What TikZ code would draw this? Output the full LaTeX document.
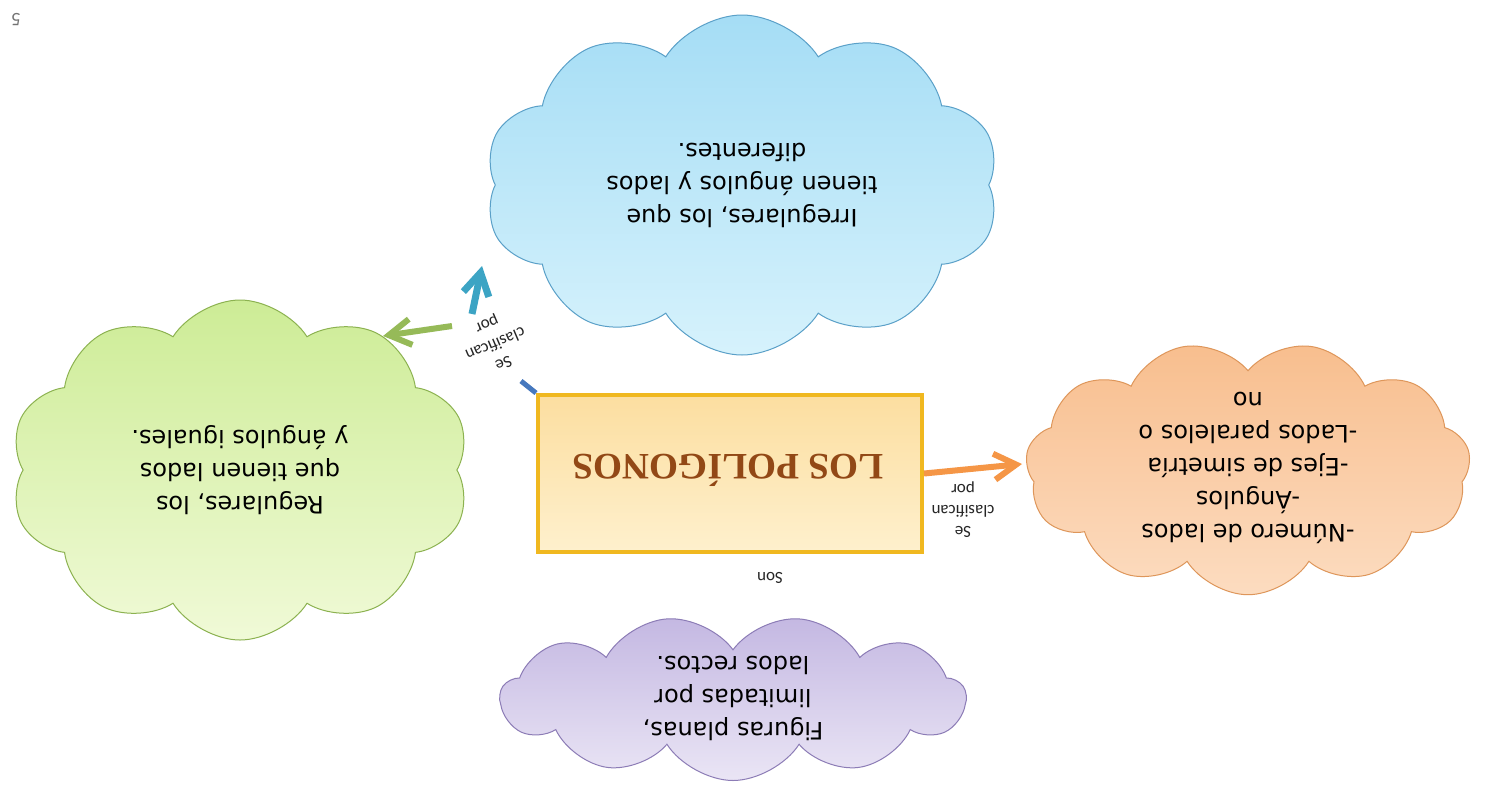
\documentclass[tikz,border=0pt]{standalone}
\usepackage{fontspec}
\setmainfont{DejaVu Sans}
\newfontfamily\labelfont{Carlito}
\newfontfamily\titlefont{Liberation Serif}
\usetikzlibrary{shapes.symbols,arrows.meta}
\definecolor{boxline}{RGB}{240,184,32}
\definecolor{boxtop}{RGB}{252,222,160}
\definecolor{boxbot}{RGB}{254,240,205}
\definecolor{titlebrown}{RGB}{146,72,22}
\definecolor{bluefillA}{RGB}{214,242,252}
\definecolor{bluefillB}{RGB}{165,221,245}
\definecolor{blueline}{RGB}{90,160,200}
\definecolor{greenfillA}{RGB}{240,250,215}
\definecolor{greenfillB}{RGB}{205,236,150}
\definecolor{greenline}{RGB}{140,178,80}
\definecolor{orangefillA}{RGB}{252,220,192}
\definecolor{orangefillB}{RGB}{248,190,142}
\definecolor{orangeline}{RGB}{222,150,90}
\definecolor{purplefillA}{RGB}{234,229,245}
\definecolor{purplefillB}{RGB}{196,184,226}
\definecolor{purpleline}{RGB}{140,124,182}
\definecolor{arroworange}{RGB}{245,150,70}
\definecolor{arrowgreen}{RGB}{150,186,88}
\definecolor{arrowblue}{RGB}{60,164,196}
\definecolor{stubblue}{RGB}{70,120,190}
\begin{document}
\begin{tikzpicture}[x=1pt,y=-1pt,
  cloudbox/.style={cloud, cloud puffs=10, cloud puff arc=115, cloud ignores aspect,
    draw, line width=1pt, align=center, rotate=180, inner sep=0pt,
    font=\fontsize{24}{33}\selectfont},
  lbl/.style={font=\labelfont\fontsize{17}{21}\selectfont, align=center, text=black!85},
  barrow/.style={line width=6pt, -{Straight Barb[length=22pt,width=26pt]}}
]
\useasboundingbox (0,0) rectangle (1496,785);
\fill[white] (0,0) rectangle (1496,785);

% clouds
\node[cloudbox, top color=bluefillB, bottom color=bluefillA, draw=blueline,
  minimum width=515pt, minimum height=340pt] (irreg) at (742,185)
  {Irregulares, los que\\tienen ángulos y lados\\diferentes.};
\node[cloudbox, top color=greenfillB, bottom color=greenfillA, draw=greenline,
  minimum width=460pt, minimum height=340pt] (reg) at (240,470)
  {Regulares, los\\que tienen lados\\y ángulos iguales.};
\node[cloudbox, cloud puffs=11, top color=orangefillB, bottom color=orangefillA, draw=orangeline,
  minimum width=445pt, minimum height=245pt] (crit) at (1248,468)
  {-Número de lados\\-Ángulos\\-Ejes de simetría\\-Lados paralelos o\\no};
\node[cloudbox, cloud puffs=11, top color=purplefillB, bottom color=purplefillA, draw=purpleline,
  minimum width=465pt, minimum height=165pt] (fig) at (733,698)
  {Figuras planas,\\limitadas por\\lados rectos.};

% central box
\node[draw=boxline, line width=4pt, top color=boxtop, bottom color=boxbot,
  minimum width=384pt, minimum height=157pt, inner sep=0pt] (box) at (730,473.5) {};
\node[rotate=180, text=titlebrown] (title) at (728,470)
  {\resizebox{310pt}{!}{\titlefont\bfseries LOS POLÍGONOS}};

% labels
\node[lbl, rotate=180] (son) at (770,578) {Son};
\node[lbl, rotate=180] (lblr) at (963,510) {Se\\clasifican\\por};
\node[lbl, rotate=203] (lbll) at (495,343) {Se\\clasifican\\por};
\node[font=\labelfont\fontsize{19}{21}\selectfont, text=black!55, rotate=180] (page) at (16,20) {5};

% connectors
\coordinate (ohead) at (1022,464);
\draw[barrow, arroworange] (box.east) -- (ohead);
\coordinate (stubend) at (521,381);
\draw[stubblue, line width=5pt] (box.north west) -- (stubend);
\coordinate (gtail) at (452,326);
\coordinate (ghead) at (383,336);
\draw[barrow, arrowgreen] (gtail) -- (ghead);
\coordinate (btail) at (472,314);
\coordinate (bhead) at (482,266);
\draw[barrow, arrowblue, line width=7pt] (btail) -- (bhead);
\end{tikzpicture}
\end{document}
